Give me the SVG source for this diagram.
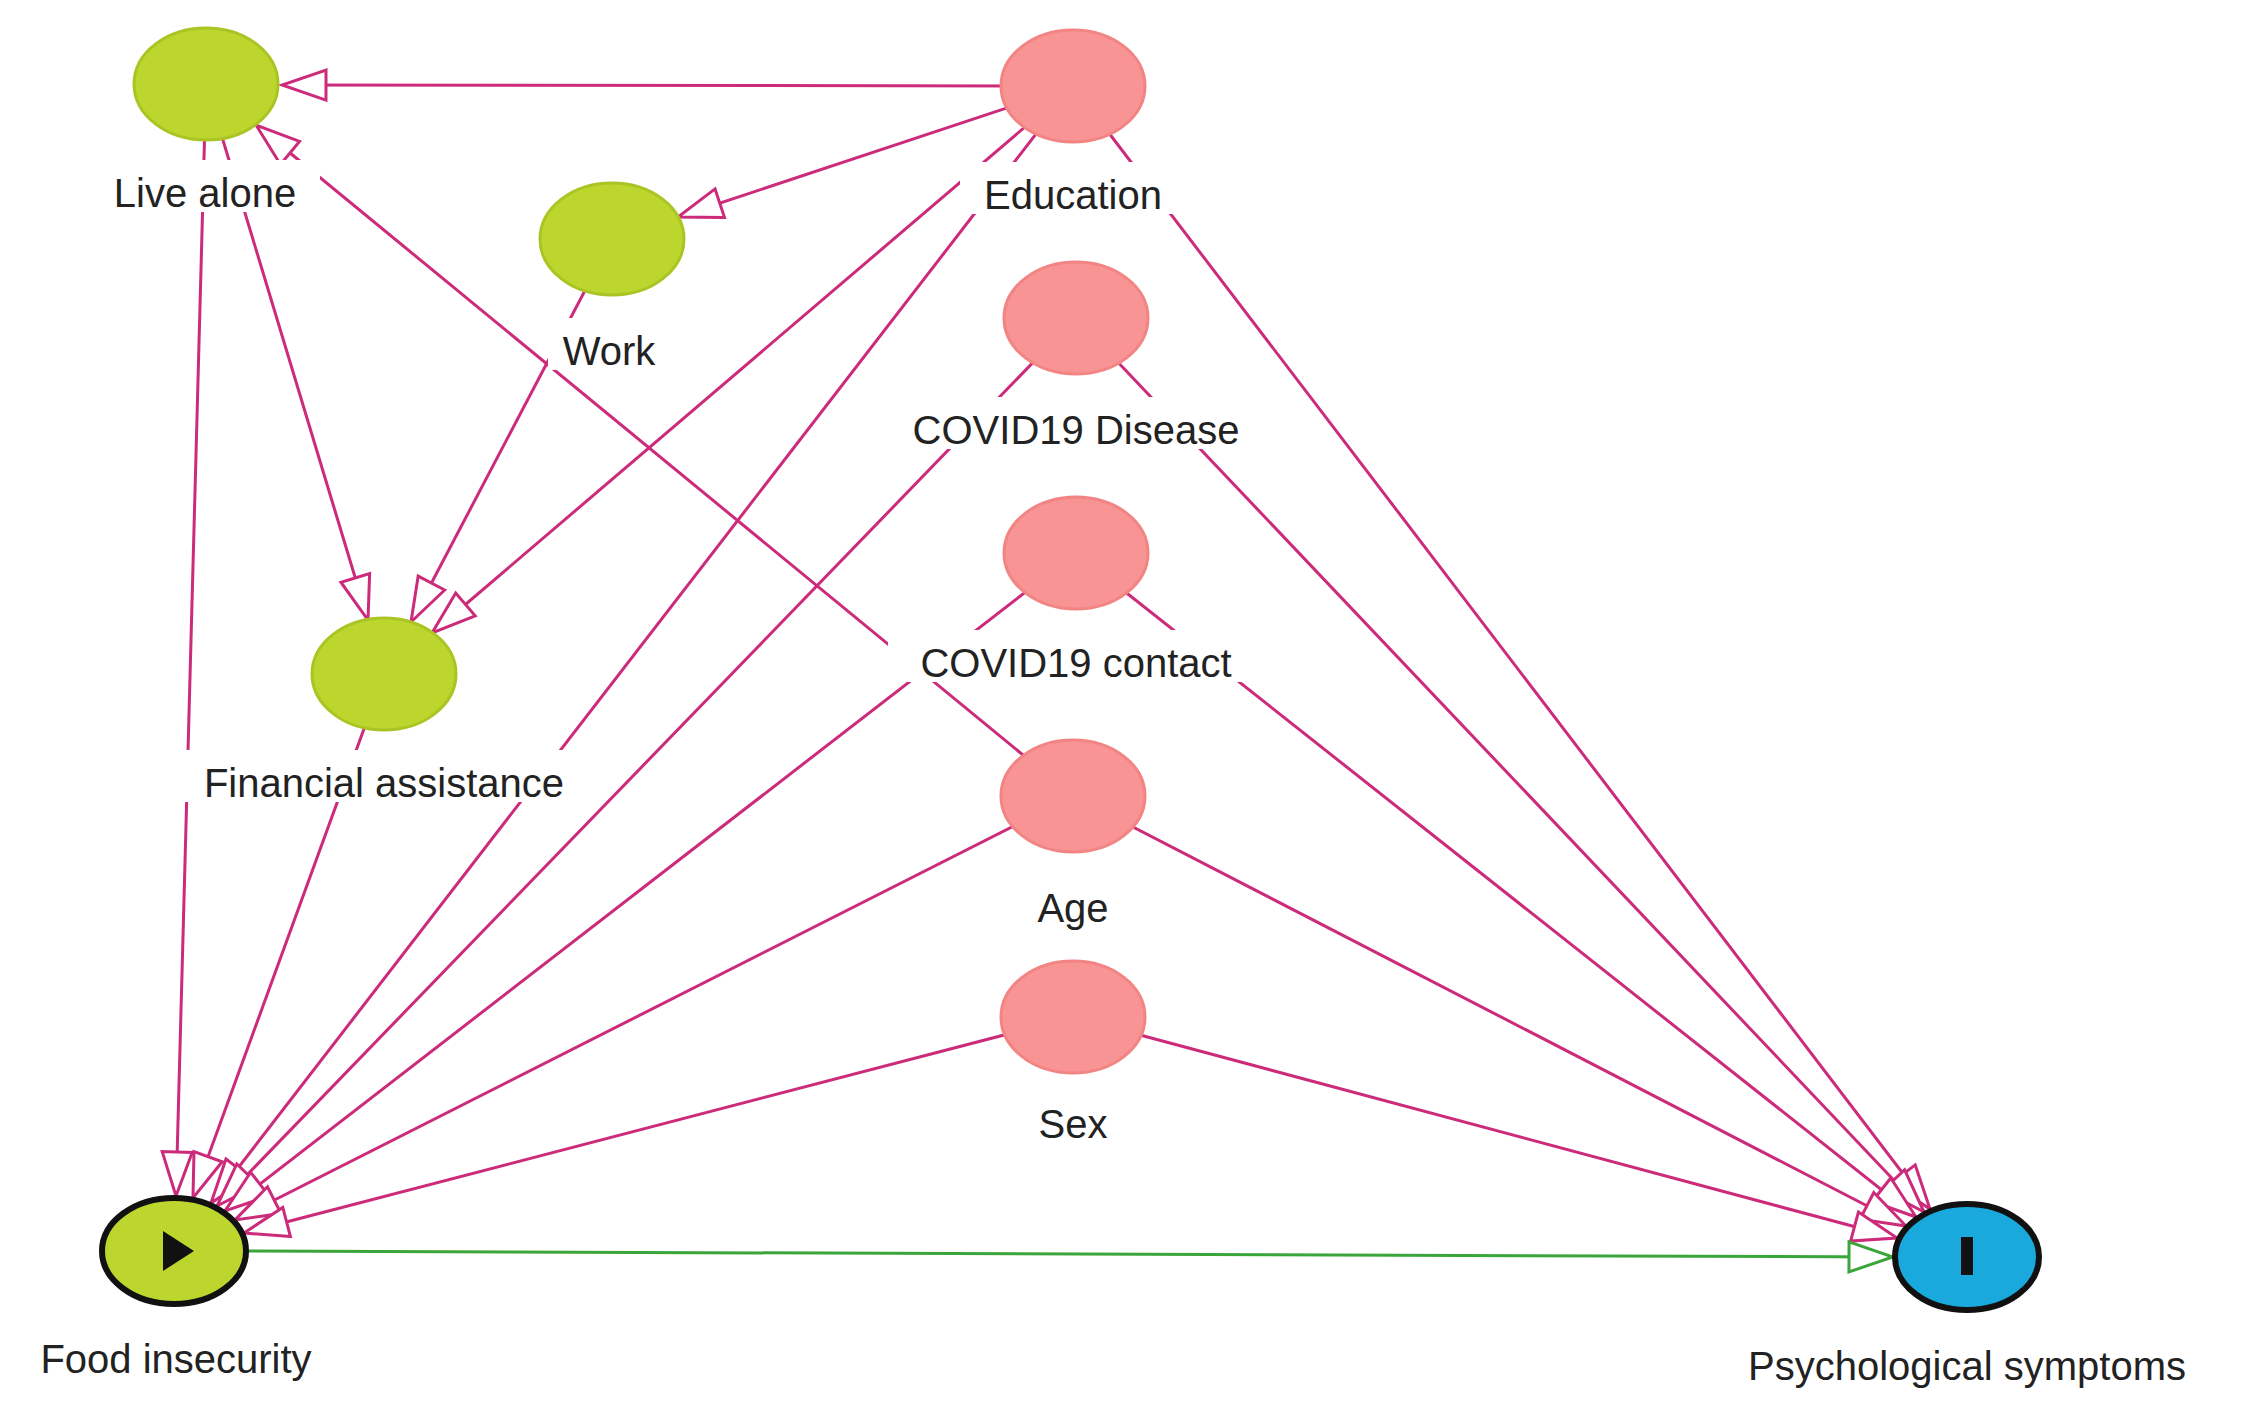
<svg xmlns="http://www.w3.org/2000/svg" width="2257" height="1419" viewBox="0 0 2257 1419">
<style>
.e{stroke:#cc2a7a;stroke-width:3;fill:none;marker-end:url(#ah)}
.g{stroke:#3aa53a;stroke-width:3;fill:none;marker-end:url(#ag)}
.gn{fill:#bdd62e;stroke:#aac424;stroke-width:3}
.pk{fill:#f99494;stroke:#f28484;stroke-width:3}
.lb{fill:#fff}
text{font-family:"Liberation Sans",Arial,sans-serif;font-size:40px;fill:#222;text-anchor:middle}
</style>
<defs>
<marker id="ah" markerUnits="userSpaceOnUse" markerWidth="50" markerHeight="40" viewBox="0 0 50 40" refX="47" refY="20" orient="auto"><path d="M3,5 L47,20 L3,35 Z" fill="#fff" stroke="#cc2a7a" stroke-width="3"/></marker>
<marker id="ag" markerUnits="userSpaceOnUse" markerWidth="50" markerHeight="40" viewBox="0 0 50 40" refX="47" refY="20" orient="auto"><path d="M3,5 L47,20 L3,35 Z" fill="#fff" stroke="#3aa53a" stroke-width="3"/></marker>
</defs>
<rect width="2257" height="1419" fill="#fff"/>
<g id="connectors">
<line class="e" x1="1073" y1="86" x2="282" y2="85"/>
<line class="e" x1="1073" y1="86" x2="678" y2="217"/>
<line class="e" x1="1073" y1="86" x2="432" y2="633"/>
<line class="e" x1="1073" y1="86" x2="211" y2="1203"/>
<line class="e" x1="1073" y1="86" x2="1930" y2="1209"/>
<line class="e" x1="206" y1="84" x2="368" y2="620"/>
<line class="e" x1="206" y1="84" x2="176" y2="1196"/>
<line class="e" x1="612" y1="239" x2="411" y2="622"/>
<line class="e" x1="384" y1="674" x2="193" y2="1198"/>
<line class="e" x1="1076" y1="318" x2="217" y2="1206"/>
<line class="e" x1="1076" y1="318" x2="1924" y2="1212"/>
<line class="e" x1="1076" y1="553" x2="225" y2="1211"/>
<line class="e" x1="1076" y1="553" x2="1916" y2="1217"/>
<line class="e" x1="1073" y1="796" x2="235" y2="1220"/>
<line class="e" x1="1073" y1="796" x2="1906" y2="1226"/>
<line class="e" x1="1073" y1="796" x2="256" y2="125"/>
<line class="e" x1="1073" y1="1017" x2="244" y2="1233"/>
<line class="e" x1="1073" y1="1017" x2="1897" y2="1238"/>
<line class="g" x1="248" y1="1251" x2="1893" y2="1257"/>
</g>
<g id="live-alone"><rect class="lb" x="90" y="160" width="230" height="52"/><ellipse class="gn" cx="206" cy="84" rx="72" ry="56"/><text x="205" y="207">Live alone</text></g>
<g id="work"><rect class="lb" x="548" y="318" width="124" height="52"/><ellipse class="gn" cx="612" cy="239" rx="72" ry="56"/><text x="609" y="365">Work</text></g>
<g id="financial-assistance"><rect class="lb" x="170" y="750" width="428" height="52"/><ellipse class="gn" cx="384" cy="674" rx="72" ry="56"/><text x="384" y="797">Financial assistance</text></g>
<g id="education"><rect class="lb" x="960" y="162" width="226" height="52"/><ellipse class="pk" cx="1073" cy="86" rx="72" ry="56"/><text x="1073" y="209">Education</text></g>
<g id="covid19-disease"><rect class="lb" x="884" y="397" width="384" height="52"/><ellipse class="pk" cx="1076" cy="318" rx="72" ry="56"/><text x="1076" y="444">COVID19 Disease</text></g>
<g id="covid19-contact"><rect class="lb" x="888" y="630" width="376" height="52"/><ellipse class="pk" cx="1076" cy="553" rx="72" ry="56"/><text x="1076" y="677">COVID19 contact</text></g>
<g id="age"><rect class="lb" x="1023" y="875" width="100" height="52"/><ellipse class="pk" cx="1073" cy="796" rx="72" ry="56"/><text x="1073" y="922">Age</text></g>
<g id="sex"><rect class="lb" x="1025" y="1091" width="96" height="52"/><ellipse class="pk" cx="1073" cy="1017" rx="72" ry="56"/><text x="1073" y="1138">Sex</text></g>
<g id="food-insecurity"><ellipse cx="174" cy="1251" rx="72" ry="53" fill="#bdd62e" stroke="#111" stroke-width="6"/><path d="M163,1231 L194,1251 L163,1271 Z" fill="#111"/><text x="176" y="1373">Food insecurity</text></g>
<g id="psychological-symptoms"><ellipse cx="1967" cy="1257" rx="72" ry="53" fill="#1aa9dc" stroke="#111" stroke-width="6"/><rect x="1961" y="1237" width="12" height="38" fill="#111"/><text x="1967" y="1380">Psychological symptoms</text></g>
</svg>
